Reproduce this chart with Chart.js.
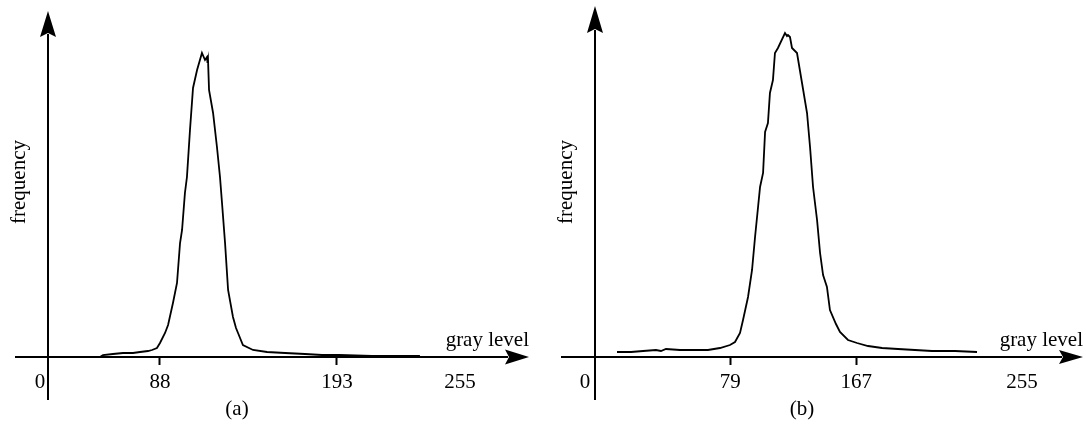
<!DOCTYPE html>
<html><head><meta charset="utf-8">
<script src="https://cdn.jsdelivr.net/npm/chart.js@4/dist/chart.umd.min.js"></script>
<style>
html,body{margin:0;padding:0;background:#fff}
#wrap{display:flex;width:1086px;height:425px}
canvas{display:block}
</style></head>
<body>
<div id="wrap"><canvas id="ca" width="543" height="425"></canvas><canvas id="cb" width="543" height="425"></canvas></div>
<script>
// ---- Panel (a) data: gray level vs frequency (arbitrary units) ----
const grayA = [25.7,52.4,54.2,60.1,66.1,72.0,76.2,80.9,83.3,86.2,88.0,91.0,92.8,95.7,98.1,99.9,101.1,102.8,104.0,105.8,107.6,110.0,112.9,114.7,115.9,116.2,116.5,117.1,119.5,121.8,123.6,124.8,126.6,128.4,131.3,133.1,134.3,137.2,143.2,151.5,162.2,174.0,184.1,194.2,213.8,242.2];
const freqA = [0,0,2,3,4,4,5,6,7,9,14,24,32,54,74,114,127,164,180,227,269,287,304,297,300,294,297,267,244,210,180,154,114,67,40,29,24,12,7,5,4,3,2,2,1,1];
const tickValuesA = [88,193];
const tickLabelsA = ['0','88','193','255'];

// ---- Panel (b) data ----
const grayB = [0,9.8,18.2,27.2,30.7,34.2,44.0,53.1,63.5,71.9,78.9,82.4,85.9,88.0,91.5,94.3,96.4,98.5,99.9,102.0,103.4,105.4,106.8,108.9,110.3,112.4,117.3,118.7,119.4,120.8,122.2,125.7,129.2,132.7,134.8,136.9,139.7,141.8,143.9,146.6,148.7,152.9,155.7,161.3,167.6,175.3,185.1,196.2,208.1,220.0,236.0,251.4];
const freqB = [5,5,6,7,6,8,7,7,7,9,12,15,24,37,60,87,120,150,170,184,225,234,264,277,304,309,324,321,322,320,309,304,274,244,210,170,137,104,82,70,47,33,25,17,14,11,9,8,7,6,6,5];
const tickValuesB = [79,167];
const tickLabelsB = ['0','79','167','255'];

const xTitle = 'gray level';
const yTitle = 'frequency';
const FONT = 'Liberation Serif, Times New Roman, serif';

// layout/style per panel (not data)
const styleA = {caption:'(a)', areaLeft:15, areaRight:529, areaTop:11, xMin:2.0, xMax:306.9, yMax:346,
  labelPos:[16.8,88,193,266], yAxisAt:21.6, yAxisBottom:400, freqX:19, capX:237,
  xArrow:[24,7.5], yArrow:[26,8]};
const styleB = {caption:'(b)', areaLeft:18, areaRight:540, areaTop:6, xMin:-39.1, xMax:325.4, yMax:351,
  labelPos:[-22.3,79,167,282.8], yAxisAt:-15.4, yAxisBottom:400, freqX:23, capX:259,
  xArrow:[24,7], yArrow:[27,8]};

const axesPlugin = {
  id:'arrowAxes',
  afterDraw(chart, args, o) {
    const st = o.st;
    const {ctx, chartArea:a} = chart;
    const x = chart.scales.x;
    ctx.save();
    ctx.strokeStyle = '#000'; ctx.fillStyle = '#000'; ctx.lineWidth = 2;
    // x axis
    const [xl, xh] = st.xArrow;
    ctx.beginPath(); ctx.moveTo(a.left, a.bottom); ctx.lineTo(a.right - xl + 3, a.bottom); ctx.stroke();
    ctx.beginPath(); ctx.moveTo(a.right, a.bottom); ctx.lineTo(a.right - xl, a.bottom - xh);
    ctx.lineTo(a.right - xl + 4, a.bottom); ctx.lineTo(a.right - xl, a.bottom + xh); ctx.closePath(); ctx.fill();
    // y axis
    const yx = Math.round(x.getPixelForValue(st.yAxisAt));
    const [yl, yw] = st.yArrow;
    ctx.beginPath(); ctx.moveTo(yx, st.yAxisBottom); ctx.lineTo(yx, a.top + yl - 3); ctx.stroke();
    ctx.beginPath(); ctx.moveTo(yx, a.top); ctx.lineTo(yx - yw, a.top + yl);
    ctx.lineTo(yx, a.top + yl - 4); ctx.lineTo(yx + yw, a.top + yl); ctx.closePath(); ctx.fill();
    // texts
    ctx.font = '21px ' + FONT;
    ctx.textAlign = 'right'; ctx.textBaseline = 'alphabetic';
    ctx.fillText(xTitle, a.right, a.bottom - 11);
    ctx.textAlign = 'center';
    ctx.fillText(st.caption, st.capX, 415);
    ctx.translate(st.freqX, 182); ctx.rotate(-Math.PI/2);
    ctx.textBaseline = 'middle';
    ctx.fillText(yTitle, 0, 0);
    ctx.restore();
  }
};

function makeChart(id, gray, freq, tickVals, tickLabels, st) {
  const pts = gray.map((g, i) => ({x:g, y:freq[i]}));
  return new Chart(document.getElementById(id), {
    type:'line',
    data:{datasets:[{data:pts, borderColor:'#000', borderWidth:1.8, pointRadius:0, tension:0, fill:false}]},
    options:{
      responsive:false, animation:false,
      layout:{padding:{left:st.areaLeft, right:543 - st.areaRight, top:st.areaTop, bottom:0}},
      plugins:{legend:{display:false}, tooltip:{enabled:false}, arrowAxes:{st}},
      scales:{
        x:{type:'linear', min:st.xMin, max:st.xMax,
          afterFit:(s) => { s.height = 68; },
          afterBuildTicks:(s) => { s.ticks = st.labelPos.map(v => ({value:v})); },
          border:{display:false},
          grid:{display:true, drawOnChartArea:false, drawTicks:true, tickLength:8, tickWidth:2,
            tickColor:(c) => (c.tick && tickVals.includes(c.tick.value)) ? '#000' : 'rgba(0,0,0,0)'},
          ticks:{autoSkip:false, maxRotation:0, padding:5, color:'#000',
            font:{family:FONT, size:21},
            callback:(v, i) => tickLabels[i]}
        },
        y:{display:false, min:0, max:st.yMax}
      }
    },
    plugins:[axesPlugin]
  });
}

makeChart('ca', grayA, freqA, tickValuesA, tickLabelsA, styleA);
makeChart('cb', grayB, freqB, tickValuesB, tickLabelsB, styleB);
</script>
</body></html>
